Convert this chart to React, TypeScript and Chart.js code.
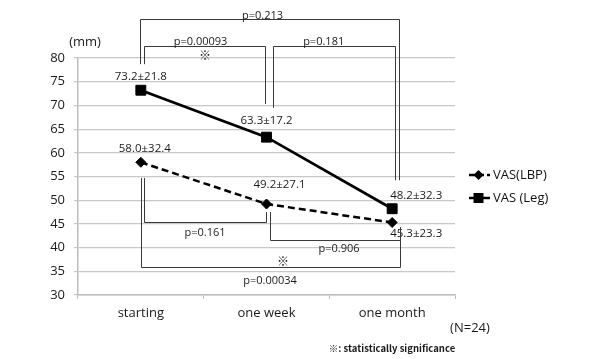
import React, { useEffect, useRef } from 'react';
import { Chart, registerables } from 'chart.js';

Chart.register(...registerables);

// ---- data ----
const categories = ['starting', 'one week', 'one month'];
const seriesNames = ['VAS(LBP)', 'VAS (Leg)'];
const vasLBP = [58.0, 49.2, 45.3];
const vasLeg = [73.2, 63.3, 48.2];
const lbpLabels = ['58.0±32.4', '49.2±27.1', '45.3±23.3'];
const legLabels = ['73.2±21.8', '63.3±17.2', '48.2±32.3'];
const yMin = 30;
const yMax = 80;
const yStep = 5;

// significance brackets: x as category position, y in data units
const bracketTexts = ['p=0.213', 'p=0.00093', 'p=0.181', 'p=0.161', 'p=0.906', 'p=0.00034'];
const bracketX1 = [-0.006, 0.025, 1.052, 0.025, 1.028, 0.0];
const bracketX2 = [2.054, 0.992, 2.022, 0.996, 2.062, 2.062];
const bracketBarY = [88.2, 82.5, 82.5, 45.4, 41.6, 35.9];
const bracketLeg1Y = [78.7, 78.7, 69.5, 54.7, 47.5, 54.7];
const bracketLeg2Y = [54.2, 70.3, 54.2, 47.5, 44.3, 44.3];
const bracketTextX = [0.968, 0.475, 1.455, 0.511, 1.577, 1.028];
const bracketTextY = [88.9, 83.4, 83.4, 43.1, 39.7, 33.0];
const significantMarkX = [0.511, 1.131];
const significantMarkY = [80.5, 37.0];

const FONT = '"Open Sans", "Noto Sans CJK JP", sans-serif';

// label offsets (px) relative to points
const legLabelOffset = [[0, -14], [0, -16], [24, -13]];
const lbpLabelOffset = [[4, -14], [13, -19], [24, 11.5]];

const annotPlugin = {
  id: 'annot',
  afterDatasetsDraw(chart: any) {
    const ctx = chart.ctx;
    ctx.save();
    ctx.font = `11.5px ${FONT}`;
    ctx.fillStyle = '#1a1a1a';
    ctx.textAlign = 'center';
    ctx.textBaseline = 'middle';
    const m0 = chart.getDatasetMeta(0).data;
    const m1 = chart.getDatasetMeta(1).data;
    lbpLabels.forEach((t, i) => {
      const p = m0[i];
      ctx.fillText(t, p.x + lbpLabelOffset[i][0], p.y + lbpLabelOffset[i][1]);
    });
    legLabels.forEach((t, i) => {
      const p = m1[i];
      ctx.fillText(t, p.x + legLabelOffset[i][0], p.y + legLabelOffset[i][1]);
    });
    ctx.restore();
  },
  afterDraw(chart: any) {
    const ctx = chart.ctx;
    const xs = chart.scales.x;
    const ys = chart.scales.y;
    const x0 = xs.getPixelForValue(0);
    const dx = xs.getPixelForValue(1) - x0;
    const X = (v: number) => x0 + v * dx;
    const Y = (v: number) => ys.getPixelForValue(v);
    ctx.save();
    ctx.strokeStyle = '#3a3a3a';
    ctx.lineWidth = 1;
    bracketTexts.forEach((t, i) => {
      const xa = Math.round(X(bracketX1[i])) + 0.5;
      const xb = Math.round(X(bracketX2[i])) + 0.5;
      const yb = Math.round(Y(bracketBarY[i])) + 0.5;
      ctx.beginPath();
      ctx.moveTo(xa, Y(bracketLeg1Y[i]));
      ctx.lineTo(xa, yb);
      ctx.lineTo(xb, yb);
      ctx.lineTo(xb, Y(bracketLeg2Y[i]));
      ctx.stroke();
    });
    ctx.fillStyle = '#1a1a1a';
    ctx.textAlign = 'center';
    ctx.textBaseline = 'middle';
    ctx.font = `11px ${FONT}`;
    bracketTexts.forEach((t, i) => {
      ctx.fillText(t, X(bracketTextX[i]), Y(bracketTextY[i]));
    });
    ctx.font = `12px "Noto Sans CJK JP", sans-serif`;
    significantMarkX.forEach((v, i) => {
      ctx.fillText('※', X(v), Y(significantMarkY[i]));
    });

    // axis unit & notes
    ctx.font = `13px ${FONT}`;
    ctx.textAlign = 'center';
    ctx.fillText('(mm)', 85, 42);
    ctx.fillText('(N=24)', 470, 328);
    ctx.font = `bold 9.5px "Noto Sans CJK JP", sans-serif`;
    ctx.fillText('※: statistically significance', 392, 348);

    // legend
    const legY = [175, 198];
    const lx1 = 469;
    const lx2 = 490;
    ctx.strokeStyle = '#000';
    ctx.fillStyle = '#000';
    ctx.lineWidth = 2.5;
    legY.forEach((y, i) => {
      ctx.beginPath();
      if (i === 0) ctx.setLineDash([6, 3]);
      else ctx.setLineDash([]);
      ctx.moveTo(lx1, y);
      ctx.lineTo(lx2, y);
      ctx.stroke();
      ctx.setLineDash([]);
      const cx = (lx1 + lx2) / 2 - 1;
      ctx.beginPath();
      if (i === 0) {
        const r = 5;
        ctx.moveTo(cx - r, y);
        ctx.lineTo(cx, y - r);
        ctx.lineTo(cx + r, y);
        ctx.lineTo(cx, y + r);
        ctx.closePath();
      } else {
        ctx.rect(cx - 5, y - 5, 10, 10);
      }
      ctx.fill();
      ctx.font = `13px ${FONT}`;
      ctx.textAlign = 'left';
      ctx.fillStyle = '#111';
      ctx.fillText(seriesNames[i], 493, y);
      ctx.fillStyle = '#000';
    });
    ctx.restore();
  },
};

export default function App() {
  const ref = useRef<HTMLCanvasElement | null>(null);
  useEffect(() => {
    if (!ref.current) return;
    const chart = new Chart(ref.current, {
      type: 'line',
      data: {
        labels: categories,
        datasets: [
          {
            label: seriesNames[0],
            data: vasLBP,
            borderColor: '#000',
            backgroundColor: '#000',
            borderWidth: 2.5,
            borderDash: [7, 4],
            pointStyle: 'rectRot',
            pointRadius: 5,
            pointBorderWidth: 1,
            tension: 0,
          },
          {
            label: seriesNames[1],
            data: vasLeg,
            borderColor: '#000',
            backgroundColor: '#000',
            borderWidth: 2.8,
            pointStyle: 'rect',
            pointRadius: 7,
            pointBorderWidth: 1,
            tension: 0,
          },
        ],
      },
      options: {
        animation: false,
        responsive: false,
        devicePixelRatio: 1,
        layout: { padding: { top: 58, right: 145, bottom: 0, left: 0 } },
        plugins: {
          legend: { display: false },
          tooltip: { enabled: false },
        },
        scales: {
          x: {
            offset: true,
            grid: {
              display: true,
              offset: true,
              drawOnChartArea: false,
              drawTicks: true,
              tickLength: 4,
              color: '#bdbdbd',
            },
            border: { display: true, color: '#bdbdbd', width: 1.5 },
            ticks: {
              color: '#1a1a1a',
              font: { family: FONT, size: 13 },
              padding: 6,
              maxRotation: 0,
            },
            afterFit(s: any) {
              s.height = 64;
            },
          },
          y: {
            min: yMin,
            max: yMax,
            grid: { color: '#c8c8c8', lineWidth: 1.2, tickLength: 4 },
            border: { display: true, color: '#bdbdbd', width: 1.5 },
            ticks: {
              stepSize: yStep,
              color: '#1a1a1a',
              font: { family: FONT, size: 13 },
              padding: 9,
            },
            afterFit(s: any) {
              s.width = 78;
            },
          },
        },
      },
      plugins: [annotPlugin],
    });
    return () => chart.destroy();
  }, []);
  return (
    <div style={{ position: 'absolute', left: 0, top: 0, width: 600, height: 359, background: '#fff' }}>
      <canvas ref={ref} width={600} height={359} />
    </div>
  );
}
